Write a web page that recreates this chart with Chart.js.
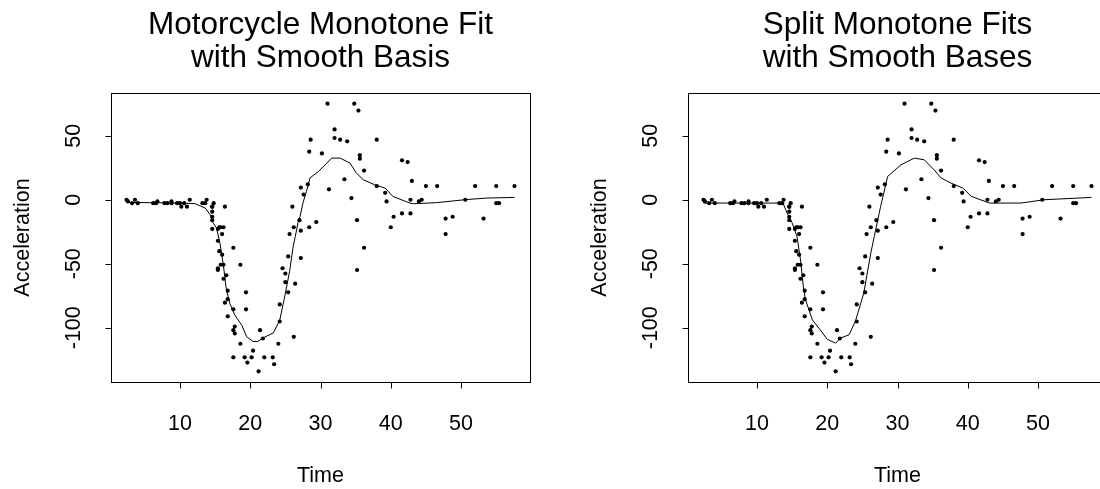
<!DOCTYPE html>
<html>
<head>
<meta charset="utf-8">
<script src="https://cdn.jsdelivr.net/npm/chart.js@4.4.1/dist/chart.umd.min.js"></script>
<style>
  html, body { margin: 0; padding: 0; background: #fff; overflow: hidden; width: 1100px; height: 489px; }
  .panel { position: absolute; top: 0; width: 578px; height: 489px; }
</style>
</head>
<body>
<div class="panel" style="left:0"><canvas id="leftChart" width="578" height="489"></canvas></div>
<div class="panel" style="left:577px"><canvas id="rightChart" width="578" height="489"></canvas></div>
<script>
// motorcycle crash data: time (ms) and head acceleration (g)
const times = [2.4, 2.6, 3.2, 3.6, 4.0, 6.2, 6.6, 6.8, 7.8, 8.2,
  8.8, 8.8, 9.6, 10.0, 10.2, 10.6, 11.0, 11.4, 13.2, 13.6,
  13.8, 14.6, 14.6, 14.6, 14.6, 14.6, 14.6, 14.8, 15.4, 15.4,
  15.4, 15.4, 15.6, 15.6, 15.8, 15.8, 16.0, 16.0, 16.2, 16.2,
  16.2, 16.4, 16.4, 16.6, 16.8, 16.8, 16.8, 17.6, 17.6, 17.6,
  17.6, 17.8, 17.8, 18.6, 18.6, 19.2, 19.4, 19.4, 19.6, 20.2,
  20.4, 21.2, 21.4, 21.8, 22.0, 23.2, 23.4, 24.0, 24.2, 24.2,
  24.6, 25.0, 25.0, 25.4, 25.4, 25.6, 26.0, 26.2, 26.2, 26.4,
  27.0, 27.2, 27.2, 27.2, 27.6, 28.2, 28.4, 28.4, 28.6, 29.4,
  30.2, 31.0, 31.2, 32.0, 32.0, 32.8, 33.4, 33.8, 34.4, 34.8,
  35.2, 35.2, 35.4, 35.6, 35.6, 36.2, 36.2, 38.0, 38.0, 39.2,
  39.4, 40.0, 40.4, 41.6, 41.6, 42.4, 42.8, 42.8, 43.0, 44.0,
  44.4, 45.0, 46.6, 47.8, 47.8, 48.8, 50.6, 52.0, 53.2, 55.0,
  55.0, 55.4, 57.6];
const accel = [0.0, -1.3, -2.7, 0.0, -2.7, -2.7, -2.7, -1.3, -2.7, -2.7,
  -1.3, -2.7, -2.7, -2.7, -5.4, -2.7, -5.4, 0.0, -2.7, -2.7,
  0.0, -13.3, -5.4, -5.4, -9.3, -16.0, -22.8, -2.7, -22.8, -32.1,
  -53.5, -54.9, -40.2, -21.5, -21.5, -50.8, -42.9, -26.8, -21.5, -50.8,
  -61.7, -5.4, -80.4, -59.0, -71.0, -91.1, -77.7, -37.5, -85.6, -123.1,
  -101.9, -99.1, -104.4, -112.5, -50.8, -123.1, -85.6, -72.3, -127.2, -123.1,
  -117.9, -134.0, -101.9, -108.4, -123.1, -123.1, -128.5, -112.5, -95.1, -81.8,
  -53.5, -64.4, -57.6, -72.3, -44.3, -26.8, -5.4, -107.1, -21.5, -65.6,
  -16.0, -45.6, -24.2, 9.5, 4.0, 12.0, -21.5, 37.5, 46.9, -17.4,
  36.2, 75.0, 8.1, 54.9, 48.2, 46.9, 16.0, 45.6, 1.3, 75.0,
  -16.0, -54.9, 69.6, 34.8, 32.1, -37.5, 22.8, 46.9, 10.7, 5.4,
  -1.3, -21.5, -13.3, 30.8, -10.7, 29.4, 0.0, -10.7, 14.7, -1.3,
  0.0, 10.7, 10.7, -26.8, -14.7, -13.3, 0.0, 10.7, -14.7, -2.7,
  10.7, -2.7, 10.7];

// fitted curves
const fitTimesLeft = [2.4, 8, 12.1, 13.6, 14.3, 14.7, 15.2, 15.7, 16.2, 16.6,
  17.1, 17.8, 18.8, 19.5, 20.4, 21.1, 21.8, 23.3, 24.2, 24.9,
  25.6, 26.1, 26.4, 26.8, 27.1, 27.5, 28.0, 28.5, 29.7, 30.9,
  31.6, 32.8, 34.2, 35.1, 36.1, 37.7, 39.2, 40.3, 42.7, 43.2,
  46.5, 50.5, 53.6, 57.6];
const fitLeft = [-2.1, -2.4, -3, -6.5, -11.7, -18, -22, -34, -52, -70,
  -81, -90, -98, -107, -110.7, -110.7, -108, -104, -94, -76,
  -56, -37, -29, -18, -13, -2.6, 6.5, 17, 22, 28.6,
  32.5, 32.5, 28.6, 20.8, 15.6, 11.7, 9.1, 2.6, -2.6, -3.1,
  -2.3, 0, 1.3, 1.8];

const fitTimesRight = [2.4, 8, 13.7, 14.3, 15.0, 15.7, 16.2, 16.6, 16.9, 17.9,
  19.0, 20.0, 21.2, 21.9, 23.1, 24.0, 25.2, 26.2, 26.7, 27.6,
  28.6, 30.5, 32.4, 33.8, 35.2, 36.2, 37.6, 39.3, 40.5, 43.1,
  47.6, 50.9, 57.6];
const fitRight = [-2.6, -2.6, -2.6, -10.4, -18, -28.6, -47, -68, -78, -94,
  -101.6, -109, -112, -108, -105.5, -95, -73, -41.7, -28.6, -5.2,
  18.2, 27.3, 32.5, 31.2, 23.4, 17, 13, 9.1, 2.6, -2.6,
  -2.6, 0, 1.8];

const xTicks = [10, 20, 30, 40, 50];
const yTicks = [-100, -50, 0, 50];
const xLabel = 'Time';
const yLabel = 'Acceleration';
const titleLeft = ['Motorcycle Monotone Fit', 'with Smooth Basis'];
const titleRight = ['Split Monotone Fits', 'with Smooth Bases'];

const FONT = '"Liberation Sans", Arial, Helvetica, sans-serif';

// R-style frame: box, ticks, rotated y labels, titles
const rFrame = {
  id: 'rFrame',
  afterDraw(chart, args, opts) {
    const { ctx, chartArea: a, scales: { x, y } } = chart;
    ctx.save();
    ctx.strokeStyle = '#000';
    ctx.lineWidth = 1;
    const L = Math.round(a.left) + 0.5, R = Math.round(a.right) + 0.5;
    const T = Math.round(a.top) + 0.5, B = Math.round(a.bottom) + 0.5;
    ctx.strokeRect(L, T, R - L, B - T);

    ctx.fillStyle = '#000';
    ctx.font = '21.5px ' + FONT;
    ctx.beginPath();
    xTicks.forEach(v => {
      const px = Math.round(x.getPixelForValue(v)) + 0.5;
      ctx.moveTo(px, B); ctx.lineTo(px, B + 6);
    });
    yTicks.forEach(v => {
      const py = Math.round(y.getPixelForValue(v)) + 0.5;
      ctx.moveTo(L, py); ctx.lineTo(L - 6, py);
    });
    ctx.stroke();

    ctx.textAlign = 'center';
    ctx.textBaseline = 'alphabetic';
    xTicks.forEach(v => ctx.fillText(String(v), x.getPixelForValue(v), 430));
    ctx.fillText(xLabel, (a.left + a.right) / 2, 482);

    yTicks.forEach(v => {
      ctx.save();
      ctx.translate(80, y.getPixelForValue(v));
      ctx.rotate(-Math.PI / 2);
      ctx.fillText(String(v), 0, 0);
      ctx.restore();
    });
    ctx.save();
    ctx.translate(28.5, (a.top + a.bottom) / 2);
    ctx.rotate(-Math.PI / 2);
    ctx.fillText(yLabel, 0, 0);
    ctx.restore();

    ctx.font = '31.5px ' + FONT;
    const cx = (a.left + a.right) / 2;
    ctx.fillText(opts.title[0], cx, 34);
    ctx.fillText(opts.title[1], cx, 67);
    ctx.restore();
  }
};

function makeChart(id, fitX, fitY, title) {
  const pts = times.map((t, i) => ({ x: t, y: accel[i] }));
  const fit = fitX.map((t, i) => ({ x: t, y: fitY[i] }));
  return new Chart(document.getElementById(id), {
    type: 'scatter',
    data: {
      datasets: [{
        data: pts,
        pointRadius: 2.1,
        pointBackgroundColor: '#000',
        pointBorderWidth: 0,
        pointHoverRadius: 2.1
      }, {
        type: 'line',
        data: fit,
        borderColor: '#000',
        borderWidth: 1,
        pointRadius: 0,
        tension: 0,
        fill: false
      }]
    },
    options: {
      responsive: false,
      animation: false,
      events: [],
      layout: { padding: { left: 111, right: 48, top: 93, bottom: 107 } },
      scales: {
        x: { type: 'linear', min: 0.192, max: 59.808, display: false },
        y: { type: 'linear', min: -142.36, max: 83.36, display: false }
      },
      plugins: {
        legend: { display: false },
        tooltip: { enabled: false },
        rFrame: { title: title }
      }
    },
    plugins: [rFrame]
  });
}

makeChart('leftChart', fitTimesLeft, fitLeft, titleLeft);
makeChart('rightChart', fitTimesRight, fitRight, titleRight);
</script>
</body>
</html>
